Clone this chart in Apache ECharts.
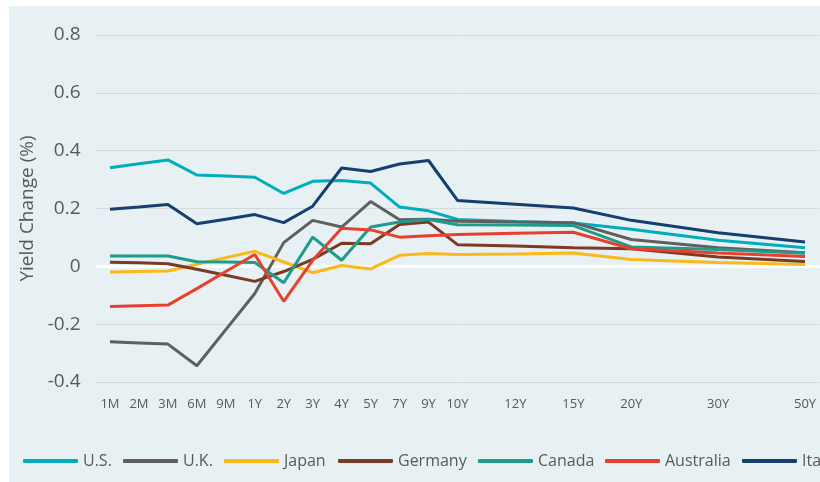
<!DOCTYPE html>
<html>
<head>
<meta charset="utf-8">
<script src="https://cdn.jsdelivr.net/npm/echarts@6/dist/echarts.min.js"></script>
<style>
  html, body { margin: 0; padding: 0; background: #ffffff; }
  #chart { position: absolute; left: 9px; top: 6px; width: 811px; height: 476px; }
</style>
</head>
<body>
<div id="chart"></div>
<script>
// maturities; empty labels are spacer slots on the category axis
const maturities = ['1M', '2M', '3M', '6M', '9M', '1Y', '2Y', '3Y', '4Y', '5Y', '7Y', '9Y', '10Y',
  '', '12Y', '', '15Y', '', '20Y', '', '', '30Y', '', '', '50Y']

const yTicks = [-0.4, -0.2, 0, 0.2, 0.4, 0.6, 0.8]

// yield change (%) per maturity, null = spacer slot
const us = [0.341, 0.355, 0.368, 0.316, 0.312, 0.308, 0.252, 0.294, 0.297, 0.288, 0.205, 0.192, 0.162,
  null, 0.155, null, 0.150, null, 0.128, null, null, 0.090, null, null, 0.064]
const uk = [-0.261, -0.265, -0.269, -0.344, -0.219, -0.094, 0.082, 0.159, 0.136, 0.224, 0.161, 0.163, 0.156,
  null, 0.153, null, 0.151, null, 0.093, null, null, 0.064, null, null, 0.047]
const japan = [-0.020, -0.018, -0.016, 0.007, 0.030, 0.052, 0.015, -0.022, 0.003, -0.009, 0.038, 0.044, 0.041,
  null, 0.043, null, 0.046, null, 0.024, null, null, 0.013, null, null, 0.006]
const germany = [0.014, 0.012, 0.009, -0.010, -0.031, -0.052, -0.018, 0.024, 0.080, 0.078, 0.145, 0.153, 0.075,
  null, 0.070, null, 0.064, null, 0.061, null, null, 0.032, null, null, 0.017]
const canada = [0.036, 0.036, 0.036, 0.016, 0.015, 0.013, -0.057, 0.101, 0.021, 0.136, 0.153, 0.162, 0.144,
  null, 0.143, null, 0.141, null, 0.067, null, null, 0.058, null, null, 0.045]
const australia = [-0.139, -0.136, -0.134, -0.077, -0.018, 0.041, -0.121, 0.021, 0.132, 0.126, 0.101, 0.106, 0.110,
  null, 0.114, null, 0.118, null, 0.061, null, null, 0.046, null, null, 0.034]
const italy = [0.197, 0.205, 0.214, 0.147, 0.163, 0.179, 0.151, 0.208, 0.340, 0.328, 0.354, 0.366, 0.228,
  null, 0.215, null, 0.202, null, 0.159, null, null, 0.116, null, null, 0.084]

const seriesDefs = [
  { name: 'U.S.', data: us, color: '#00adbc', legendLeft: 9 },
  { name: 'U.K.', data: uk, color: '#5f5f5f', legendLeft: 109 },
  { name: 'Japan', data: japan, color: '#fbb81a', legendLeft: 210 },
  { name: 'Germany', data: germany, color: '#7a3b26', legendLeft: 324 },
  { name: 'Canada', data: canada, color: '#1f9b8b', legendLeft: 464 },
  { name: 'Australia', data: australia, color: '#e8402f', legendLeft: 591 },
  { name: 'Italy', data: italy, color: '#163f6f', legendLeft: 728 },
]

const textColor = '#595959'
const fontFamily = '"Open Sans", "Noto Sans", sans-serif'

const chart = echarts.init(document.getElementById('chart'), null, { renderer: 'canvas' })

chart.setOption({
  backgroundColor: '#e7f0f3',
  animation: false,
  textStyle: { fontFamily },
  grid: { left: 86.5, right: 0.5, top: 29, bottom: 100 },
  legend: seriesDefs.map((s) => ({
    data: [s.name],
    left: s.legendLeft,
    top: 442,
    icon: 'roundRect',
    itemWidth: 55,
    itemHeight: 4,
    itemGap: 0,
    textStyle: { color: textColor, fontSize: 16, fontFamily },
  })),
  xAxis: {
    type: 'category',
    data: maturities,
    boundaryGap: true,
    axisLine: { show: false },
    axisTick: { show: false },
    axisLabel: { color: textColor, fontSize: 13, margin: 16, interval: 0 },
    splitLine: { show: false },
  },
  yAxis: {
    type: 'value',
    min: yTicks[0],
    max: yTicks[yTicks.length - 1],
    interval: 0.2,
    name: 'Yield Change (%)',
    nameLocation: 'middle',
    nameGap: 58,
    nameTextStyle: { color: textColor, fontSize: 19 },
    axisLine: { show: false },
    axisTick: { show: false },
    axisLabel: {
      color: textColor,
      fontSize: 19,
      margin: 15,
      formatter: (v) => (Math.abs(v) < 1e-9 ? '0' : String(Math.round(v * 10) / 10)),
    },
    splitLine: { lineStyle: { color: '#d6d9db', width: 1 } },
  },
  series: seriesDefs.map((s, i) => ({
    name: s.name,
    type: 'line',
    data: s.data,
    connectNulls: true,
    symbol: 'none',
    z: 3,
    lineStyle: { color: s.color, width: 3 },
    itemStyle: { color: s.color },
    markLine: i === 0 ? {
      silent: true,
      symbol: 'none',
      label: { show: false },
      lineStyle: { color: '#ffffff', width: 3, type: 'solid' },
      z: 2,
      data: [{ yAxis: 0 }],
    } : undefined,
  })),
})
</script>
</body>
</html>
